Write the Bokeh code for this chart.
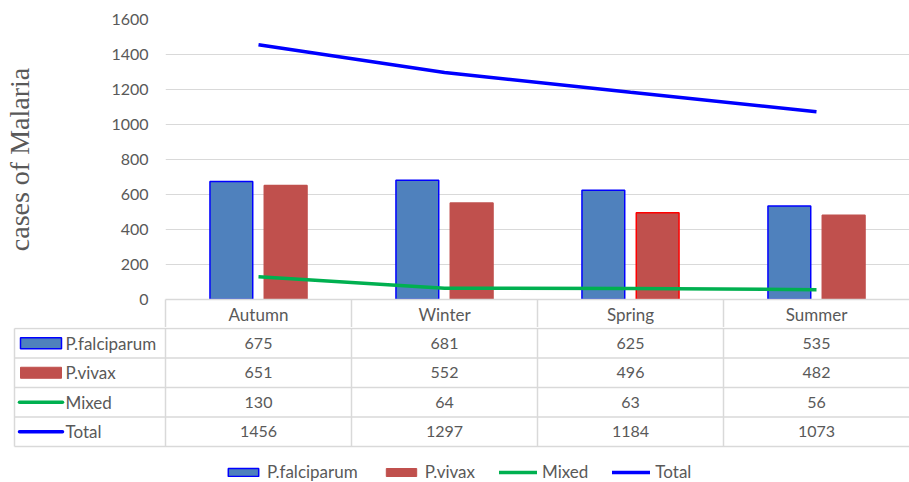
from bokeh.plotting import figure
from bokeh.models import Range1d, FixedTicker, ColumnDataSource, Legend, LegendItem
from bokeh.embed import file_html
from bokeh.resources import INLINE
from bokeh.core.properties import value

# ---------------- data ----------------
seasons = ["Autumn", "Winter", "Spring", "Summer"]
falciparum = [675, 681, 625, 535]
vivax = [651, 552, 496, 482]
mixed = [130, 64, 63, 56]
total = [1456, 1297, 1184, 1073]
series_names = ["P.falciparum", "P.vivax", "Mixed", "Total"]
y_ticks = [0, 200, 400, 600, 800, 1000, 1200, 1400, 1600]

# ---------------- style ----------------
FONT = "Lato"
TXT = "#595959"
GRID = "#D9D9D9"
BLUE_FILL = "#4F81BD"
RED_FILL = "#C0504D"
GREEN = "#00B050"
TOTAL_BLUE = "#0000FF"
vivax_edges = [RED_FILL, RED_FILL, "#FF0000", RED_FILL]
NUM_SIZE = "16px"
WORD_SIZE = "17px"

W = 909
PX_PER_CAT = 186.0
LEFT_TABLE = -(165 - 14) / PX_PER_CAT

n = len(seasons)
centers = [i + 0.5 for i in range(n)]

# ---------------- top chart ----------------
top = figure(width=W, height=327, x_range=Range1d(0, n), y_range=Range1d(0, 1600),
             output_backend="svg", toolbar_location=None,
             min_border_left=165, min_border_right=0, min_border_top=19, min_border_bottom=28)
top.outline_line_color = None

src = ColumnDataSource(dict(x=centers, falciparum=falciparum, vivax=vivax, mixed=mixed,
                            total=total, vedge=vivax_edges))
bw = 0.23
off = 0.146
top.vbar(x=[c - off for c in centers], top=falciparum, width=bw, fill_color=BLUE_FILL,
         line_color=TOTAL_BLUE, line_width=1.5)
top.vbar(x=[c + off for c in centers], top=vivax, width=bw, fill_color=RED_FILL,
         line_color=vivax_edges, line_width=1.5)
top.line(x="x", y="mixed", source=src, line_color=GREEN, line_width=3.5)
top.line(x="x", y="total", source=src, line_color=TOTAL_BLUE, line_width=3.5)

top.xgrid.visible = False
top.ygrid.ticker = FixedTicker(ticks=y_ticks)
top.ygrid.grid_line_color = GRID
top.ygrid.grid_line_width = 1

ya = top.yaxis[0]
ya.ticker = FixedTicker(ticks=y_ticks)
ya.axis_line_color = None
ya.major_tick_line_color = None
ya.minor_tick_line_color = None
ya.major_tick_out = 0
ya.major_tick_in = 0
ya.minor_tick_out = 0
ya.minor_tick_in = 0
ya.major_label_text_font = FONT
ya.major_label_text_font_size = NUM_SIZE
ya.major_label_text_color = TXT
ya.major_label_standoff = 17
ya.axis_label = "cases of Malaria"
ya.axis_label_text_font = "Liberation Serif"
ya.axis_label_text_font_style = "normal"
ya.axis_label_text_font_size = "28px"
ya.axis_label_text_color = TXT
ya.axis_label_standoff = 73

xa = top.xaxis[0]
xa.ticker = FixedTicker(ticks=centers, minor_ticks=list(range(n)))
xa.major_label_overrides = {c: s for c, s in zip(centers, seasons)}
xa.major_tick_line_color = None
xa.major_tick_in = 0
xa.major_tick_out = 0
xa.minor_tick_line_color = GRID
xa.minor_tick_line_width = 1.5
xa.minor_tick_in = 0
xa.minor_tick_out = 28
xa.axis_line_color = GRID
xa.axis_line_width = 1.5
xa.major_label_text_font = FONT
xa.major_label_text_font_size = WORD_SIZE
xa.major_label_text_color = TXT
xa.major_label_standoff = -24

# ---------------- data table ----------------
ROW_PX = 29.5
H_BOT = 155
y_top = -1.0 / ROW_PX
bot = figure(width=W, height=H_BOT, x_range=Range1d(-165 / PX_PER_CAT, n),
             y_range=Range1d(y_top + H_BOT / ROW_PX, y_top),
             x_axis_location=None, y_axis_location=None,
             output_backend="svg", toolbar_location=None,
             min_border_left=0, min_border_right=0, min_border_top=0, min_border_bottom=0)
bot.outline_line_color = None
bot.xgrid.visible = False
bot.ygrid.visible = False

nr = len(series_names)
hx0 = [LEFT_TABLE] * (nr + 1)
hx1 = [n] * (nr + 1)
hy = list(range(nr + 1))
bot.segment(x0=hx0, y0=hy, x1=hx1, y1=hy, line_color=GRID, line_width=1.5)
vx = [LEFT_TABLE] + list(range(n))
bot.segment(x0=vx, y0=[0] * len(vx), x1=vx, y1=[nr] * len(vx), line_color=GRID, line_width=1.5)

rows = [falciparum, vivax, mixed, total]
tx, ty, tt = [], [], []
for r, vals in enumerate(rows):
    for c, v in enumerate(vals):
        tx.append(c + 0.5)
        ty.append(r + 0.5)
        tt.append(str(v))
bot.text(x=tx, y=ty, text=tt, text_align="center", text_baseline="middle",
         text_font=value(FONT), text_font_size=NUM_SIZE, text_color=TXT)

lab_x = (65 - 165) / PX_PER_CAT
bot.text(x=[lab_x] * nr, y=[r + 0.5 for r in range(nr)], text=series_names,
         text_align="left", text_baseline="middle",
         text_font=value(FONT), text_font_size=WORD_SIZE, text_color=TXT)

key_c = (40.5 - 165) / PX_PER_CAT
kx0 = (19 - 165) / PX_PER_CAT
kx1 = (62 - 165) / PX_PER_CAT
k_f = bot.rect(x=[key_c], y=[0.5], width=41, height=11, width_units="screen", height_units="screen",
               fill_color=BLUE_FILL, line_color=TOTAL_BLUE, line_width=1.5)
k_v = bot.rect(x=[key_c], y=[1.5], width=41, height=11, width_units="screen", height_units="screen",
               fill_color=RED_FILL, line_color=RED_FILL, line_width=1.0)
k_m = bot.line(x=[kx0, kx1], y=[2.5, 2.5], line_color=GREEN, line_width=3.5, line_cap="round")
k_t = bot.line(x=[kx0, kx1], y=[3.5, 3.5], line_color=TOTAL_BLUE, line_width=3.5, line_cap="round")

legend = Legend(items=[LegendItem(label=series_names[0], renderers=[k_f]),
                       LegendItem(label=series_names[1], renderers=[k_v]),
                       LegendItem(label=series_names[2], renderers=[k_m]),
                       LegendItem(label=series_names[3], renderers=[k_t])],
                orientation="horizontal", location=(224, 0),
                padding=0, margin=0, spacing=24, label_standoff=5,
                glyph_width=38, glyph_height=10, label_height=20,
                label_text_font=FONT, label_text_font_size=WORD_SIZE, label_text_color=TXT,
                border_line_color=None, background_fill_alpha=0)
bot.add_layout(legend)

open("out.html", "w").write(file_html([top, bot], INLINE))
